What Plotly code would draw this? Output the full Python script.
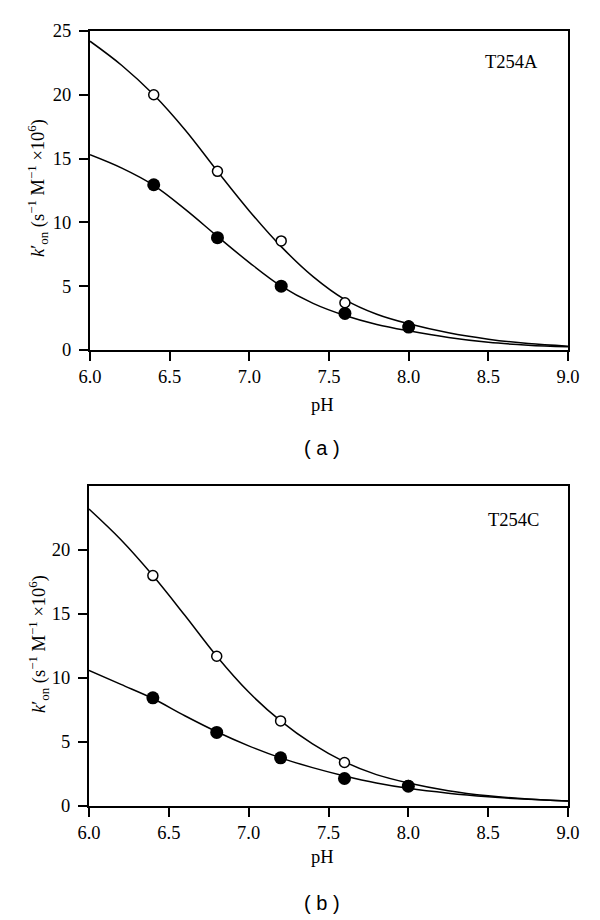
import plotly.graph_objects as go

# ---- data ----
ph_points = [6.4, 6.8, 7.2, 7.6, 8.0]

# Panel (a) T254A
a_open = [20.0, 14.0, 8.55, 3.7, 1.9]
a_filled = [12.95, 8.8, 5.0, 2.87, 1.8]

# Panel (b) T254C
b_open = [18.0, 11.7, 6.65, 3.4, 1.6]
b_filled = [8.45, 5.75, 3.76, 2.15, 1.55]

# fitted curves
ph_curve = [6.0, 6.2, 6.4, 6.6, 6.8, 7.0, 7.2, 7.4, 7.6, 7.8, 8.0, 8.25, 8.5, 8.75, 9.0]
a_curve_open = [24.2, 22.3, 20.0, 17.2, 14.0, 10.9, 8.1, 5.75, 3.95, 2.8, 2.05, 1.35, 0.85, 0.5, 0.3]
a_curve_filled = [15.3, 14.25, 12.9, 11.0, 8.9, 6.85, 5.0, 3.65, 2.7, 2.0, 1.5, 0.98, 0.6, 0.38, 0.25]
b_curve_open = [23.2, 20.8, 18.0, 14.9, 11.7, 8.9, 6.65, 4.85, 3.45, 2.45, 1.8, 1.2, 0.8, 0.55, 0.4]
b_curve_filled = [10.6, 9.5, 8.4, 7.05, 5.8, 4.7, 3.76, 3.0, 2.35, 1.8, 1.38, 1.0, 0.72, 0.52, 0.39]

x_ticks = [6.0, 6.5, 7.0, 7.5, 8.0, 8.5, 9.0]
x_ticktext = ["6.0", "6.5", "7.0", "7.5", "8.0", "8.5", "9.0"]
a_yticks = [0, 5, 10, 15, 20, 25]
b_yticks = [0, 5, 10, 15, 20]

W, H = 600, 920
OFF = 8  # page body margin offset
SERIF = "Liberation Serif"
SANS = "Liberation Sans"

fig = go.Figure()

def add_panel(xa, ya, c_open, c_filled, p_open, p_filled):
    for cy in (c_open, c_filled):
        fig.add_trace(go.Scatter(x=ph_curve, y=cy, mode="lines", xaxis=xa, yaxis=ya,
                                 line=dict(color="black", width=1.5, shape="spline", smoothing=1.0),
                                 showlegend=False, hoverinfo="skip"))
    fig.add_trace(go.Scatter(x=ph_points, y=p_open, mode="markers", xaxis=xa, yaxis=ya,
                             marker=dict(symbol="circle", size=10, color="white",
                                         line=dict(color="black", width=1.5)),
                             showlegend=False))
    fig.add_trace(go.Scatter(x=ph_points, y=p_filled, mode="markers", xaxis=xa, yaxis=ya,
                             marker=dict(symbol="circle", size=13, color="black",
                                         line=dict(color="black", width=0)),
                             showlegend=False))

add_panel("x", "y", a_curve_open, a_curve_filled, a_open, a_filled)
add_panel("x2", "y2", b_curve_open, b_curve_filled, b_open, b_filled)

def px_x(p):
    return (p - OFF) / W

def px_y(p):
    return 1 - (p - OFF) / H

axis_common = dict(showgrid=False, zeroline=False, showline=True, linecolor="black",
                   linewidth=2, mirror=True, ticks="outside", ticklen=9, tickwidth=2,
                   tickcolor="black", automargin=False,
                   tickfont=dict(family=SERIF, size=18.5, color="black"))

fig.update_layout(
    width=W, height=H,
    margin=dict(l=0, r=0, t=0, b=0, pad=0, autoexpand=False),
    font=dict(family=SERIF, color="black"),
    paper_bgcolor="white", plot_bgcolor="white",
    xaxis=dict(domain=[px_x(90), px_x(568)], range=[6.0, 9.0], tickvals=x_ticks,
               ticktext=x_ticktext, anchor="y", **axis_common),
    yaxis=dict(domain=[px_y(350), px_y(31)], range=[0, 25], tickvals=a_yticks,
               anchor="x", ticklabelstandoff=4, **axis_common),
    xaxis2=dict(domain=[px_x(89), px_x(568)], range=[6.0, 9.0], tickvals=x_ticks,
                ticktext=x_ticktext, anchor="y2", **axis_common),
    yaxis2=dict(domain=[px_y(806), px_y(486)], range=[0, 25], tickvals=b_yticks,
                anchor="x2", ticklabelstandoff=4, **axis_common),
)

ytitle = "<i>k</i>′<sub>on</sub> (s<sup>−1</sup> M<sup>−1</sup> ×10<sup>6</sup>)"
ann = []
for (yc, xlab_y, lab_y, lab, tag, tagxy) in [
    (188, 405, 448, "( a )", "T254A", (511, 62)),
    (644, 857, 903, "( b )", "T254C", (513, 520)),
]:
    ann.append(dict(text=ytitle, x=px_x(38), y=px_y(yc), xref="paper", yref="paper",
                    textangle=-90, showarrow=False, xanchor="center", yanchor="middle",
                    font=dict(family=SERIF, size=18.5, color="black")))
    ann.append(dict(text="pH", x=px_x(322), y=px_y(xlab_y), xref="paper", yref="paper",
                    showarrow=False, xanchor="center", yanchor="middle",
                    font=dict(family=SERIF, size=18.5, color="black")))
    ann.append(dict(text=lab, x=px_x(322), y=px_y(lab_y), xref="paper", yref="paper",
                    showarrow=False, xanchor="center", yanchor="middle",
                    font=dict(family=SANS, size=20, color="black")))
    ann.append(dict(text=tag, x=px_x(tagxy[0]), y=px_y(tagxy[1]), xref="paper", yref="paper",
                    showarrow=False, xanchor="center", yanchor="middle",
                    font=dict(family=SERIF, size=18.5, color="black")))
fig.update_layout(annotations=ann)

fig.write_html("out.html")
